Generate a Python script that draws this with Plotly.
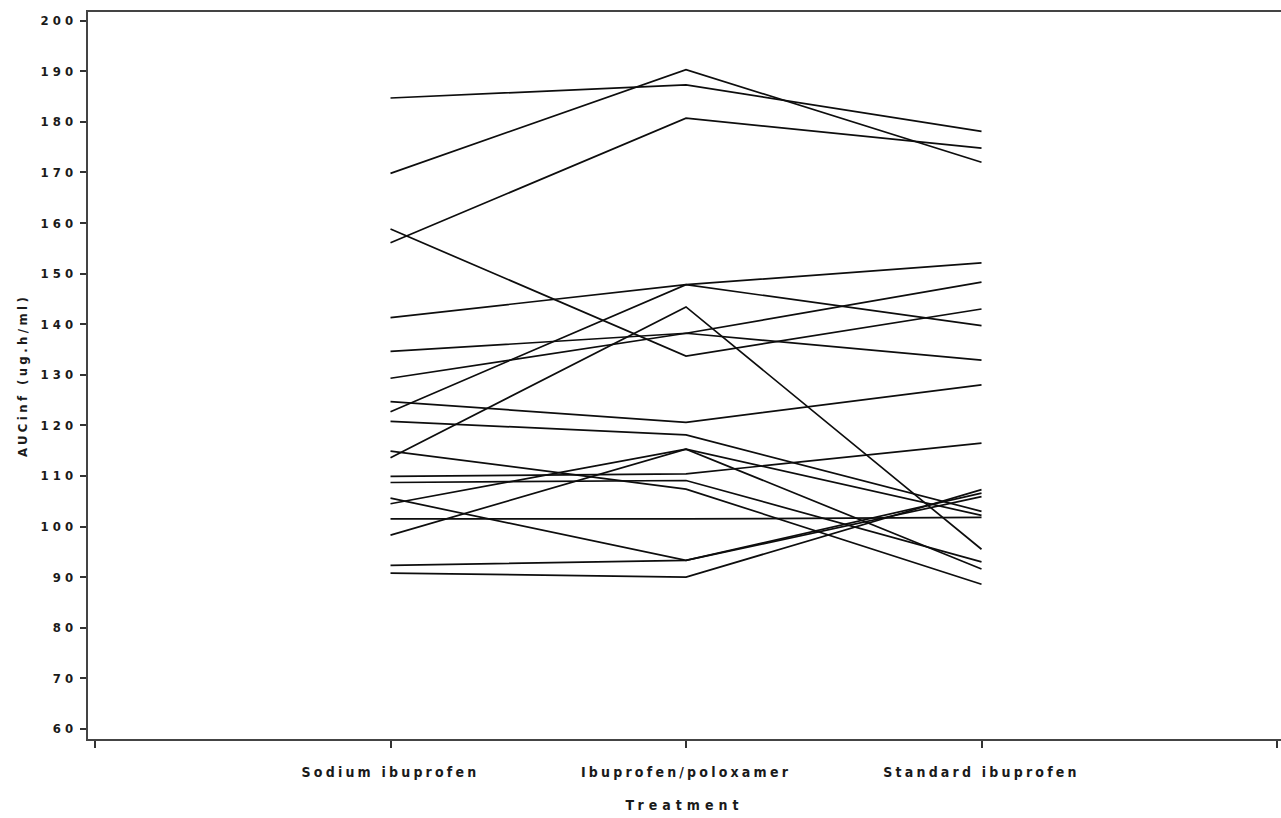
import plotly.graph_objects as go

# Treatment categories (x-axis)
treatments = ["Sodium ibuprofen", "Ibuprofen/poloxamer", "Standard ibuprofen"]

# AUCinf (ug.h/ml) per subject for each treatment
sodium_ibuprofen = [184.7, 169.8, 156.1, 158.8, 141.3, 122.7, 134.6, 129.3, 124.7, 120.8,
                    113.6, 114.9, 109.9, 108.7, 104.5, 98.3, 105.6, 101.5, 92.3, 90.8]
ibuprofen_poloxamer = [187.3, 190.3, 180.7, 133.7, 147.8, 147.8, 138.2, 138.2, 120.6, 118.1,
                       143.4, 107.4, 110.4, 109.1, 115.3, 115.3, 93.3, 101.5, 93.3, 90.0]
standard_ibuprofen = [178.1, 172.0, 174.8, 143.0, 152.1, 139.7, 132.9, 148.3, 128.0, 103.0,
                      95.5, 88.6, 116.5, 93.0, 102.2, 91.6, 106.6, 101.8, 105.9, 107.3]

y_ticks = list(range(60, 201, 10))
x_positions = [1, 2, 3]

FONT = "DejaVu Sans Condensed, Liberation Sans Narrow, DejaVu Sans, sans-serif"


def spaced(t, ls):
    return '<span style="letter-spacing:%spx">%s</span>' % (ls, t)


fig = go.Figure()
for a, b, c in zip(sodium_ibuprofen, ibuprofen_poloxamer, standard_ibuprofen):
    fig.add_trace(go.Scatter(
        x=x_positions, y=[a, b, c], mode="lines",
        line=dict(color="#0d0d0d", width=1.7),
        showlegend=False, hoverinfo="skip"))

fig.update_layout(
    width=1281, height=818,
    margin=dict(l=88, r=0, t=12, b=79),
    paper_bgcolor="white", plot_bgcolor="white",
    font=dict(family=FONT, size=13, color="#1a1a1a", weight="bold"),
    showlegend=False,
)

fig.update_xaxes(
    range=[-0.0237, 4.0135],
    tickvals=[0, 1, 2, 3, 4],
    ticktext=[""] + [spaced(t, 3.2) for t in treatments] + [""],
    ticks="outside", ticklen=7, tickwidth=1.5, tickcolor="#333333",
    ticklabelstandoff=12,
    showline=True, linecolor="#444444", linewidth=2, mirror=True,
    showgrid=False, zeroline=False,
    tickfont=dict(family=FONT, size=14, color="#1a1a1a", weight="bold"),
    title=dict(text=spaced("Treatment", 5), standoff=21,
               font=dict(family=FONT, size=14, color="#1a1a1a", weight="bold")),
)

fig.update_yaxes(
    range=[58.0, 201.7],
    tickvals=y_ticks,
    ticktext=[spaced(str(v), 4.2) for v in y_ticks],
    ticks="outside", ticklen=6, tickwidth=1.5, tickcolor="#333333",
    showline=True, linecolor="#444444", linewidth=2, mirror=False,
    showgrid=False, zeroline=False,
    tickfont=dict(family=FONT, size=13, color="#1a1a1a", weight="bold"),
    title=dict(text=spaced("AUCinf (ug.h/ml)", 3.4), standoff=10,
               font=dict(family=FONT, size=13, color="#1a1a1a", weight="bold")),
)

fig.write_html("out.html", config={"displayModeBar": False},
               post_script="document.body.style.margin='0';")
